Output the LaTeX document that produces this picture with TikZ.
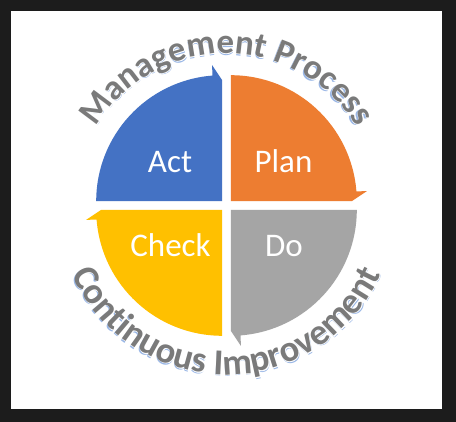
\documentclass[tikz,border=0pt]{standalone}
\usepackage{fontspec}
\setmainfont{Carlito}
\newfontfamily\arcfont{Carlito Bold}
\newfontfamily\arcwhitefont{Carlito Bold}[FakeBold=2]
\usetikzlibrary{decorations.text}
\definecolor{framecol}{HTML}{1C1C1C}
\definecolor{actblue}{HTML}{4472C4}
\definecolor{planorange}{HTML}{ED7D31}
\definecolor{dogray}{HTML}{A5A5A5}
\definecolor{checkyellow}{HTML}{FFC000}
\definecolor{arcgray}{HTML}{7A7A7A}
\definecolor{arcblue}{HTML}{9AB7E6}
\begin{document}
\begin{tikzpicture}[x=1pt,y=1pt,
  quadrant/.pic={\fill (0,0) -- (0,126) arc[start angle=90,end angle=4.5,radius=126pt] -- (136,10) -- (121,0) -- cycle;},
  quadlabel/.style={text=white,font=\fontsize{33}{33}\selectfont,anchor=base,inner sep=0pt}]
\useasboundingbox (0,0) rectangle (456,422);
\fill[framecol] (0,0) rectangle (456,422);
\fill[white] (11,13) rectangle (442,411);
\coordinate (O) at (226.5,216.5);
\coordinate (ts) at ([shift={(170:152pt)}]O);
\coordinate (bs) at ([shift={(190:169pt)}]O);
% quadrants
\pic[fill=planorange] at (230.8,220.8) {quadrant};
\pic[fill=actblue,rotate=90] at (222.2,220.8) {quadrant};
\pic[fill=dogray,rotate=-90] at (230.8,212.2) {quadrant};
\pic[fill=checkyellow,rotate=180] at (222.2,212.2) {quadrant};
% labels
\node[quadlabel] (act) at (170,249) {Act};
\node[quadlabel] (plan) at (283.5,249) {Plan};
\node[quadlabel] (check) at (170.5,165) {Check};
\node[quadlabel] (do) at (284,165) {Do};
% top arc text
\path[decorate,decoration={text along path,text align=center,raise=-1.8pt,
  text={|\arcfont\fontsize{35}{35}\selectfont\color{arcblue}|Management Process}}]
  (ts) arc[start angle=170,end angle=10,radius=152pt];
\path[decorate,decoration={text along path,text align=center,
  text={|\arcwhitefont\fontsize{35}{35}\selectfont\color{white}|Management Process}}]
  (ts) arc[start angle=170,end angle=10,radius=152pt];
\path[decorate,decoration={text along path,text align=center,
  text={|\arcfont\fontsize{35}{35}\selectfont\color{arcgray}|Management Process}}]
  (ts) arc[start angle=170,end angle=10,radius=152pt];
% bottom arc text
\path[decorate,decoration={text along path,text align=center,raise=-1.8pt,
  text={|\arcfont\fontsize{36.5}{36.5}\selectfont\color{arcblue}|Continuous Improvement}}]
  (bs) arc[start angle=190,end angle=350,radius=169pt];
\path[decorate,decoration={text along path,text align=center,
  text={|\arcwhitefont\fontsize{36.5}{36.5}\selectfont\color{white}|Continuous Improvement}}]
  (bs) arc[start angle=190,end angle=350,radius=169pt];
\path[decorate,decoration={text along path,text align=center,
  text={|\arcfont\fontsize{36.5}{36.5}\selectfont\color{arcgray}|Continuous Improvement}}]
  (bs) arc[start angle=190,end angle=350,radius=169pt];
\end{tikzpicture}
\end{document}
